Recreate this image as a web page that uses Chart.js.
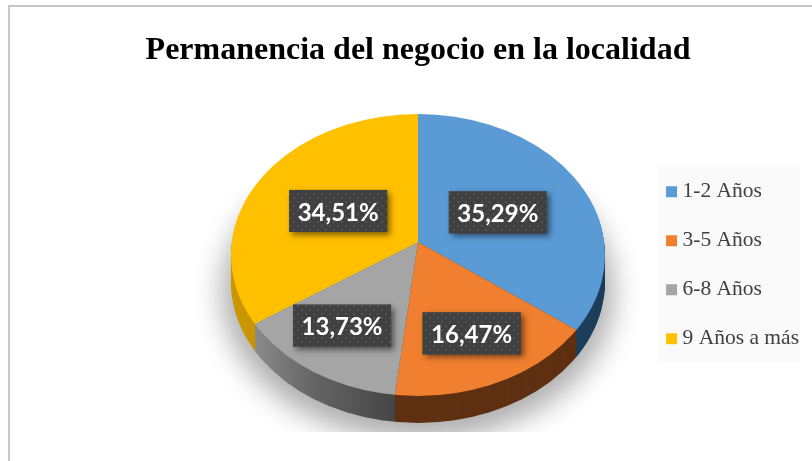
<!DOCTYPE html>
<html lang="es">
<head>
<meta charset="utf-8">
<title>Permanencia del negocio en la localidad</title>
<script src="https://cdn.jsdelivr.net/npm/chart.js@4/dist/chart.umd.min.js"></script>
<style>
  html, body { margin: 0; padding: 0; background: #fff; overflow: hidden; }
  #frame { position: absolute; left: 8px; top: 5px; width: 810px; height: 470px; border: 2px solid #c6c6c6; }
  #chart { position: absolute; left: 0; top: 0; }
</style>
</head>
<body>
<div id="frame"></div>
<canvas id="chart" width="812" height="461"></canvas>
<script>
const categories = ['1-2 Años', '3-5 Años', '6-8 Años', '9 Años a más'];
const shares = [35.29, 16.47, 13.73, 34.51];
const faceColors = ['#5B9BD5', '#F07F2F', '#A5A5A5', '#FFC000'];
const chartTitle = 'Permanencia del negocio en la localidad';

// Fake 3D look: where the pie goes on the page and how it is squashed
const pie3d = { cx: 418, cy: 242, squash: 0.735, depth: 27, rimCy: 255, rimRx: 187, rimRy: 141 };

function rimPath(ctx, offset) {
  ctx.beginPath();
  ctx.ellipse(pie3d.cx, pie3d.rimCy + offset, pie3d.rimRx, pie3d.rimRy, 0, 0, Math.PI * 2);
}

function squashToPage(ctx, arc, offset) {
  ctx.translate(pie3d.cx, pie3d.cy + offset);
  ctx.scale(1, pie3d.squash);
  ctx.translate(-arc.x, -arc.y);
}

function sideColor(ctx, index, arc) {
  if (index === 0) return '#1F3F5C';
  if (index === 1) return '#5F3012';
  if (index === 3) return '#C99700';
  // gradient runs in the squashed space, so shift it back from the page position
  const shift = arc.x - pie3d.cx;
  const gradient = ctx.createLinearGradient(255 + shift, 0, 395 + shift, 0);
  gradient.addColorStop(0, '#8A8A8A');
  gradient.addColorStop(0.4, '#666666');
  gradient.addColorStop(1, '#454545');
  return gradient;
}

const pieBackdrop = {
  id: 'pieBackdrop',
  beforeDraw(chart) {
    const ctx = chart.ctx;
    ctx.save();
    ctx.fillStyle = '#FAFAFA';
    ctx.fillRect(659, 165, 141, 197);
    ctx.restore();
  },
  beforeDatasetDraw(chart, args) {
    const ctx = chart.ctx;
    const arcs = args.meta.data;

    // Soft shadow under the pie, cut off at the bottom like the original.
    // The ellipse itself sits off the canvas, only its shadow lands here.
    ctx.save();
    ctx.beginPath();
    ctx.rect(190, 190, 450, 242);
    ctx.clip();
    ctx.shadowColor = 'rgba(0, 0, 0, 0.32)';
    ctx.shadowBlur = 28;
    ctx.shadowOffsetX = 1200;
    ctx.fillStyle = '#000';
    ctx.beginPath();
    ctx.ellipse(pie3d.cx - 1200, 292, 196, 148, 0, 0, Math.PI * 2);
    ctx.fill();
    ctx.restore();

    // Side wall: stacked copies of the slices going upward
    for (let d = pie3d.depth; d >= 1; d--) {
      ctx.save();
      rimPath(ctx, d);
      ctx.clip();
      arcs.forEach((arc, i) => {
        ctx.save();
        squashToPage(ctx, arc, d);
        ctx.fillStyle = sideColor(ctx, i, arc);
        ctx.beginPath();
        ctx.moveTo(arc.x, arc.y);
        ctx.arc(arc.x, arc.y, arc.outerRadius, arc.startAngle, arc.endAngle);
        ctx.closePath();
        ctx.fill();
        ctx.restore();
      });
      ctx.restore();
    }

    // Top face is drawn by the library inside this transform
    ctx.save();
    rimPath(ctx, 0);
    ctx.clip();
    squashToPage(ctx, arcs[0], 0);
  },
  afterDatasetDraw(chart) {
    chart.ctx.restore();
  }
};

function dotPattern(ctx) {
  const tile = document.createElement('canvas');
  tile.width = 8;
  tile.height = 8;
  const t = tile.getContext('2d');
  t.fillStyle = '#404040';
  t.fillRect(0, 0, 8, 8);
  t.fillStyle = '#525252';
  t.fillRect(1, 1, 2, 2);
  t.fillRect(5, 5, 2, 2);
  return ctx.createPattern(tile, 'repeat');
}

// Data labels as dark boxes, distance from the apex as a fraction of the radius
const labelDistance = [0.42, 0.63, 0.64, 0.42];
const labelNudge = [[-1, 0], [0, 0], [-5, -3], [0, 0]];

const sliceLabels = {
  id: 'sliceLabels',
  afterDatasetsDraw(chart) {
    const ctx = chart.ctx;
    const arcs = chart.getDatasetMeta(0).data;
    const fill = dotPattern(ctx);
    arcs.forEach((arc, i) => {
      const mid = (arc.startAngle + arc.endAngle) / 2;
      const dist = arc.outerRadius * labelDistance[i];
      const x = pie3d.cx + Math.cos(mid) * dist + labelNudge[i][0];
      const y = pie3d.cy + Math.sin(mid) * dist * pie3d.squash + labelNudge[i][1];
      const text = shares[i].toFixed(2).replace('.', ',') + '%';
      ctx.save();
      ctx.shadowColor = 'rgba(0, 0, 0, 0.5)';
      ctx.shadowBlur = 6;
      ctx.shadowOffsetX = 3;
      ctx.shadowOffsetY = 3;
      ctx.fillStyle = '#404040';
      ctx.fillRect(x - 49, y - 21, 98, 42);
      ctx.restore();
      ctx.save();
      ctx.fillStyle = fill;
      ctx.fillRect(x - 49, y - 21, 98, 42);
      ctx.fillStyle = '#fff';
      ctx.font = 'bold 24px Lato';
      ctx.textAlign = 'center';
      ctx.textBaseline = 'middle';
      ctx.fillText(text, x, y + 2);
      ctx.restore();
    });
  }
};

new Chart(document.getElementById('chart'), {
  type: 'pie',
  data: {
    labels: categories,
    datasets: [{
      data: shares,
      backgroundColor: faceColors,
      borderWidth: 0,
      radius: 215
    }]
  },
  options: {
    responsive: false,
    animation: false,
    events: [],
    layout: { padding: { left: 27, right: 3, top: 0, bottom: 8 } },
    plugins: {
      title: {
        display: true,
        text: chartTitle,
        color: '#000',
        font: { family: 'Liberation Serif', size: 32, weight: 'bold' },
        padding: { top: 32, bottom: 7 }
      },
      legend: {
        position: 'right',
        fullSize: false,
        labels: {
          // thin box + thick stroke keeps the swatch close to its text
          boxWidth: 0.5,
          boxHeight: 0.5,
          padding: 27.5,
          color: '#404040',
          font: { family: 'Liberation Serif', size: 21.5 },
          generateLabels(chart) {
            return Chart.overrides.pie.plugins.legend.labels.generateLabels(chart).map(item => ({
              ...item,
              strokeStyle: item.fillStyle,
              lineWidth: 10.5,
              lineJoin: 'miter'
            }));
          }
        }
      },
      tooltip: { enabled: false }
    }
  },
  plugins: [pieBackdrop, sliceLabels]
});
</script>
</body>
</html>
